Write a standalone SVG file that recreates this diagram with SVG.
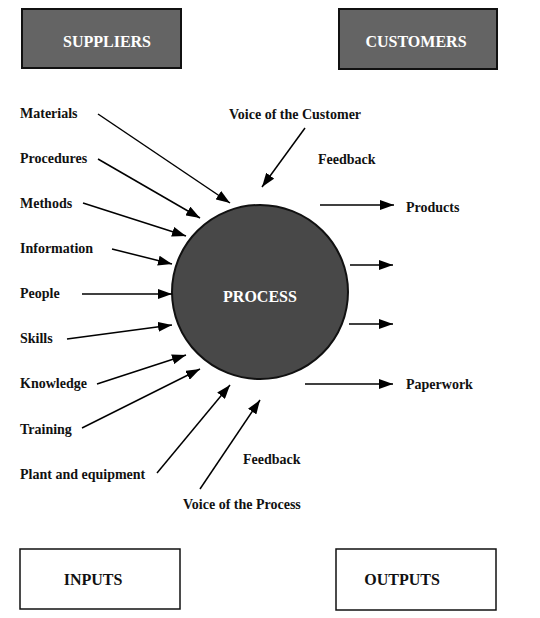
<svg xmlns="http://www.w3.org/2000/svg" width="540" height="618" viewBox="0 0 540 618">
<defs>
<marker id="ah" viewBox="0 0 14 10" refX="14" refY="5" markerWidth="14" markerHeight="10" markerUnits="userSpaceOnUse" orient="auto">
<path d="M0,0 L14,5 L0,10 Z" fill="#000"/>
</marker>
</defs>
<style>
text{font-family:"Liberation Serif","Times New Roman",serif;font-weight:bold;fill:#111}
.lbl{font-size:14px}
.w{fill:#fff;font-size:16px}
.box{font-size:16px}
.dark{fill:#646464;stroke:#111;stroke-width:2}
.plain{fill:#fff;stroke:#111;stroke-width:1.5}
.c line{stroke:#000;stroke-width:1.5;marker-end:url(#ah)}
</style>
<rect width="540" height="618" fill="#fff"/>
<g id="suppliers"><rect class="dark" x="22" y="9" width="159" height="59"/><text class="w" x="107" y="47" text-anchor="middle">SUPPLIERS</text></g>
<g id="customers"><rect class="dark" x="339" y="9" width="158" height="60"/><text class="w" x="416" y="47" text-anchor="middle">CUSTOMERS</text></g>
<g id="process"><ellipse cx="260" cy="292" rx="88" ry="87" fill="#484848" stroke="#111" stroke-width="2"/><text class="w" x="260" y="302" text-anchor="middle">PROCESS</text></g>
<g id="inputs"><rect class="plain" x="20" y="549" width="160" height="60"/><text class="box" x="93" y="585" text-anchor="middle">INPUTS</text></g>
<g id="outputs"><rect class="plain" x="336" y="549" width="160" height="61"/><text class="box" x="402" y="585" text-anchor="middle">OUTPUTS</text></g>
<g id="labels">
<text class="lbl" x="20" y="118">Materials</text>
<text class="lbl" x="20" y="163">Procedures</text>
<text class="lbl" x="20" y="208">Methods</text>
<text class="lbl" x="20" y="253">Information</text>
<text class="lbl" x="20" y="298">People</text>
<text class="lbl" x="20" y="343">Skills</text>
<text class="lbl" x="20" y="388">Knowledge</text>
<text class="lbl" x="20" y="434">Training</text>
<text class="lbl" x="20" y="479">Plant and equipment</text>
<text class="lbl" x="229" y="119">Voice of the Customer</text>
<text class="lbl" x="318" y="164">Feedback</text>
<text class="lbl" x="406" y="212">Products</text>
<text class="lbl" x="406" y="389">Paperwork</text>
<text class="lbl" x="243" y="464">Feedback</text>
<text class="lbl" x="183" y="509">Voice of the Process</text>
</g>
<g id="connectors" class="c">
<line x1="98" y1="114" x2="230" y2="203"/>
<line x1="98" y1="159" x2="200" y2="218"/>
<line x1="83" y1="203" x2="186" y2="236"/>
<line x1="112" y1="249" x2="172" y2="264"/>
<line x1="82" y1="294" x2="172" y2="294"/>
<line x1="67" y1="339" x2="172" y2="325"/>
<line x1="97" y1="384" x2="186" y2="355"/>
<line x1="82" y1="428" x2="200" y2="369"/>
<line x1="157" y1="473" x2="230" y2="385"/>
<line x1="200" y1="489" x2="260" y2="400"/>
<line x1="305" y1="128" x2="262" y2="187"/>
<line x1="320" y1="205" x2="394" y2="205"/>
<line x1="350" y1="265" x2="393" y2="265"/>
<line x1="349" y1="324" x2="393" y2="324"/>
<line x1="305" y1="384" x2="393" y2="384"/>
</g>
</svg>
